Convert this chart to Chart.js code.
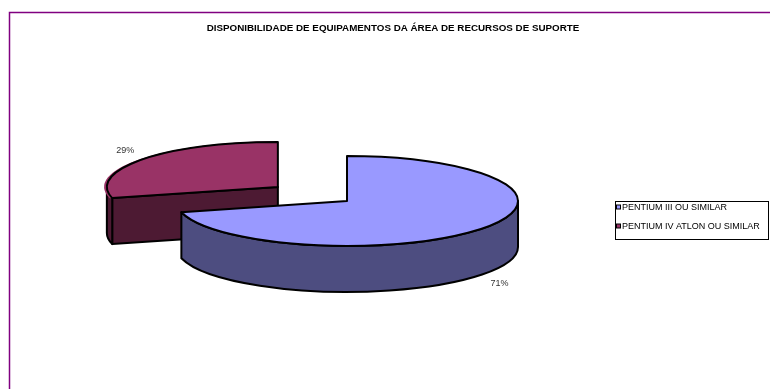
<!DOCTYPE html>
<html>
<head>
<meta charset="utf-8">
<script src="https://cdn.jsdelivr.net/npm/chart.js"></script>
<style>
  body { margin: 0; background: #fff; }
  canvas { display: block; }
</style>
</head>
<body>
<canvas id="myChart" width="770" height="389"></canvas>
<script>
const chartTitle = 'DISPONIBILIDADE DE EQUIPAMENTOS DA ÁREA DE RECURSOS DE SUPORTE';
const labels = ['PENTIUM III OU SIMILAR', 'PENTIUM IV ATLON OU SIMILAR'];
const values = [71, 29];
const topColors = ['#9999FF', '#993366'];
const sideColors = ['#4D4D80', '#4D1A33'];
const explode = [0, 350];

const FONT = "'Liberation Sans', Arial, sans-serif";
const TILT = 0.263;   // how flat the pie looks
const DEPTH = 46;     // height of the 3d wall, px

// where an arc really sits on screen (chart.js v4 moves exploded arcs by offset/4)
function arcGeom(arc) {
    const half = (arc.startAngle + arc.endAngle) / 2;
    const off = (arc.options.offset || 0) / 4;
    const ux = arc.x + Math.cos(half) * off;
    const uy = arc.y + Math.sin(half) * off;
    return {
        cx: ux,
        cy: arc.y + (uy - arc.y) * TILT,
        rx: arc.outerRadius,
        ry: arc.outerRadius * TILT,
        half: half
    };
}

function drawSides(ctx, arc, color) {
    const g = arcGeom(arc);
    const s = arc.startAngle, e = arc.endAngle;
    ctx.fillStyle = color;
    ctx.strokeStyle = '#000';
    ctx.lineWidth = 2;
    ctx.lineJoin = 'round';

    // cut faces that look towards the viewer
    [[s, s - Math.PI / 2], [e, e + Math.PI / 2]].forEach(([a, n]) => {
        if (Math.sin(n) <= 0.01) return;
        const px = g.cx + g.rx * Math.cos(a);
        const py = g.cy + g.ry * Math.sin(a);
        ctx.beginPath();
        ctx.moveTo(g.cx, g.cy);
        ctx.lineTo(px, py);
        ctx.lineTo(px, py + DEPTH);
        ctx.lineTo(g.cx, g.cy + DEPTH);
        ctx.closePath();
        ctx.fill();
        ctx.stroke();
    });

    // front half of the outer wall
    for (let k = -1; k <= 1; k++) {
        const a1 = Math.max(s, 2 * Math.PI * k);
        const a2 = Math.min(e, 2 * Math.PI * k + Math.PI);
        if (a2 <= a1) continue;
        ctx.beginPath();
        ctx.ellipse(g.cx, g.cy, g.rx, g.ry, 0, a1, a2);
        ctx.ellipse(g.cx, g.cy + DEPTH, g.rx, g.ry, 0, a2, a1, true);
        ctx.closePath();
        ctx.fill();
        ctx.stroke();
    }
}

const pie3d = {
    id: 'pie3d',
    beforeDatasetsDraw(chart) {
        const ctx = chart.ctx;
        const arcs = chart.getDatasetMeta(0).data;
        const order = arcs.map((a, i) => i).sort((a, b) => arcGeom(arcs[a]).cy - arcGeom(arcs[b]).cy);
        ctx.save();
        order.forEach(i => drawSides(ctx, arcs[i], sideColors[i]));
        ctx.restore();

        // squash the pie itself
        const y = arcs[0].y;
        ctx.save();
        ctx.translate(0, y);
        ctx.scale(1, TILT);
        ctx.translate(0, -y);
    },
    afterDatasetsDraw(chart) {
        const ctx = chart.ctx;
        ctx.restore();
        const arcs = chart.getDatasetMeta(0).data;
        const total = values.reduce((a, b) => a + b, 0);

        ctx.save();
        ctx.strokeStyle = '#000';
        ctx.lineWidth = 2;
        ctx.lineJoin = 'round';
        arcs.forEach((arc, i) => {
            const g = arcGeom(arc);
            ctx.beginPath();
            ctx.moveTo(g.cx, g.cy);
            ctx.ellipse(g.cx, g.cy, g.rx, g.ry, 0, arc.startAngle, arc.endAngle);
            ctx.closePath();
            ctx.stroke();

            // percentage labels
            const sn = Math.sin(g.half);
            const lx = g.cx + (g.rx + 22) * Math.cos(g.half);
            const ly = g.cy + (g.ry + 14) * sn + (sn > 0 ? DEPTH : 0);
            ctx.fillStyle = '#333';
            ctx.font = '9px ' + FONT;
            ctx.textAlign = 'center';
            ctx.textBaseline = 'middle';
            ctx.fillText(Math.round(values[i] / total * 100) + '%', lx, ly);
        });
        ctx.restore();
    },
    afterDraw(chart) {
        const ctx = chart.ctx;
        ctx.save();
        // plot frame
        ctx.strokeStyle = '#800080';
        ctx.lineWidth = 1.5;
        ctx.strokeRect(9.5, 12.5, 820, 420);

        // title
        ctx.fillStyle = '#000';
        ctx.font = 'bold 9.8px ' + FONT;
        ctx.textAlign = 'center';
        ctx.textBaseline = 'middle';
        ctx.fillText(chartTitle, 393, 28.5);

        // legend
        ctx.lineWidth = 1;
        ctx.strokeStyle = '#000';
        ctx.strokeRect(615.5, 201.5, 153, 38);
        ctx.font = '9px ' + FONT;
        ctx.textAlign = 'left';
        labels.forEach((lab, i) => {
            const y = 208 + i * 19;
            ctx.fillStyle = '#000';
            ctx.fillRect(616, y - 3.5, 5, 5);
            ctx.fillStyle = topColors[i];
            ctx.fillRect(617, y - 2.5, 3, 3);
            ctx.fillStyle = '#000';
            ctx.fillText(lab, 622, y);
        });
        ctx.restore();
    }
};

const ctx = document.getElementById('myChart').getContext('2d');
window.myChart = new Chart(ctx, {
    type: 'pie',
    data: {
        labels: labels,
        datasets: [{
            data: values,
            backgroundColor: topColors,
            borderWidth: 0,
            offset: explode,
            clip: 1000
        }]
    },
    options: {
        responsive: false,
        animation: false,
        events: [],
        radius: 171,
        layout: {
            padding: { left: 0, right: 76, top: 13, bottom: 0 }
        },
        plugins: {
            legend: { display: false },
            title: { display: false },
            tooltip: { enabled: false }
        }
    },
    plugins: [pie3d]
});
</script>
</body>
</html>
